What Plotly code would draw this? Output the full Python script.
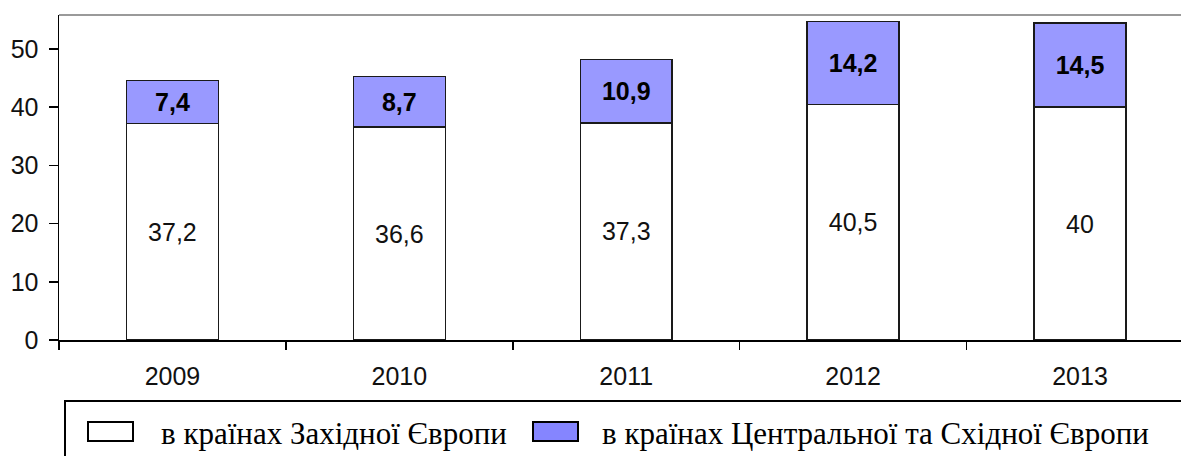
import plotly.graph_objects as go

years = ["2009", "2010", "2011", "2012", "2013"]
western = [37.2, 36.6, 37.3, 40.5, 40.0]
central_eastern = [7.4, 8.7, 10.9, 14.2, 14.5]
series_names = ["в країнах Західної Європи", "в країнах Центральної та Східної Європи"]
y_ticks = [0, 10, 20, 30, 40, 50]

W, H = 1181, 456
L, R, T, B = 59, 0, 15, 116
SANS = "Liberation Sans, Arial"
SERIF = "Liberation Serif, Times New Roman"


def fmt(v):
    return f"{v:g}".replace(".", ",")


def px(x):
    return (x - L) / (W - L - R)


def py(y):
    return (H - B - y) / (H - B - T)


fig = go.Figure()
fig.add_trace(go.Bar(
    x=years, y=western, name=series_names[0],
    marker=dict(color="#ffffff", line=dict(color="#1a1a1a", width=1.5)),
    text=[fmt(v) for v in western], textposition="inside",
    insidetextanchor="middle", textangle=0,
    textfont=dict(family=SANS, size=25, color="#111111"),
    width=0.405, showlegend=False, hoverinfo="skip",
))
fig.add_trace(go.Bar(
    x=years, y=central_eastern, name=series_names[1],
    marker=dict(color="#9999ff", line=dict(color="#1a1a1a", width=1.5)),
    text=["<b>" + fmt(v) + "</b>" for v in central_eastern], textposition="inside",
    insidetextanchor="middle", textangle=0,
    textfont=dict(family=SANS, size=25, color="#000000"),
    width=0.405, showlegend=False, hoverinfo="skip",
))

shapes = [
    dict(type="line", xref="paper", yref="paper", x0=0, x1=1, y0=1, y1=1,
         line=dict(color="#9a9a9a", width=2)),
    dict(type="rect", xref="paper", yref="paper", x0=px(65), x1=px(1200), y0=py(401), y1=py(470),
         line=dict(color="#000000", width=2), fillcolor="rgba(0,0,0,0)"),
    dict(type="rect", xref="paper", yref="paper", x0=px(88), x1=px(133), y0=py(422), y1=py(441),
         line=dict(color="#000000", width=2), fillcolor="#ffffff"),
    dict(type="rect", xref="paper", yref="paper", x0=px(533), x1=px(578), y0=py(422), y1=py(441),
         line=dict(color="#000000", width=2), fillcolor="#8585ff"),
]
annotations = [
    dict(xref="paper", yref="paper", x=px(159), y=py(433), xanchor="left", yanchor="middle",
         text=series_names[0], showarrow=False,
         font=dict(family=SERIF, size=31, color="#000000")),
    dict(xref="paper", yref="paper", x=px(600), y=py(433), xanchor="left", yanchor="middle",
         text=series_names[1], showarrow=False,
         font=dict(family=SERIF, size=31, color="#000000")),
]

fig.update_layout(
    width=W, height=H, autosize=False,
    margin=dict(l=L, r=R, t=T, b=B, pad=0),
    barmode="stack",
    plot_bgcolor="#ffffff", paper_bgcolor="#ffffff",
    shapes=shapes, annotations=annotations,
    showlegend=False,
)
fig.update_xaxes(
    type="category", range=[-0.5, 4.445],
    showline=True, linecolor="#000000", linewidth=1.5,
    ticks="outside", tickson="boundaries", ticklen=8, tickwidth=1.5, tickcolor="#000000",
    tickfont=dict(family=SANS, size=25, color="#111111"),
    ticklabelstandoff=13, showgrid=False, zeroline=False,
)
fig.update_yaxes(
    range=[0, 55.85], tickvals=y_ticks,
    showline=True, linecolor="#000000", linewidth=1.5,
    ticks="outside", ticklen=9, tickwidth=1.5, tickcolor="#000000",
    tickfont=dict(family=SANS, size=25, color="#111111"),
    ticklabelstandoff=5, showgrid=False, zeroline=False,
)

fig.write_html(
    "out.html",
    config={"displayModeBar": False, "staticPlot": True},
    post_script="document.body.style.margin='0';document.body.style.overflow='hidden';",
)
